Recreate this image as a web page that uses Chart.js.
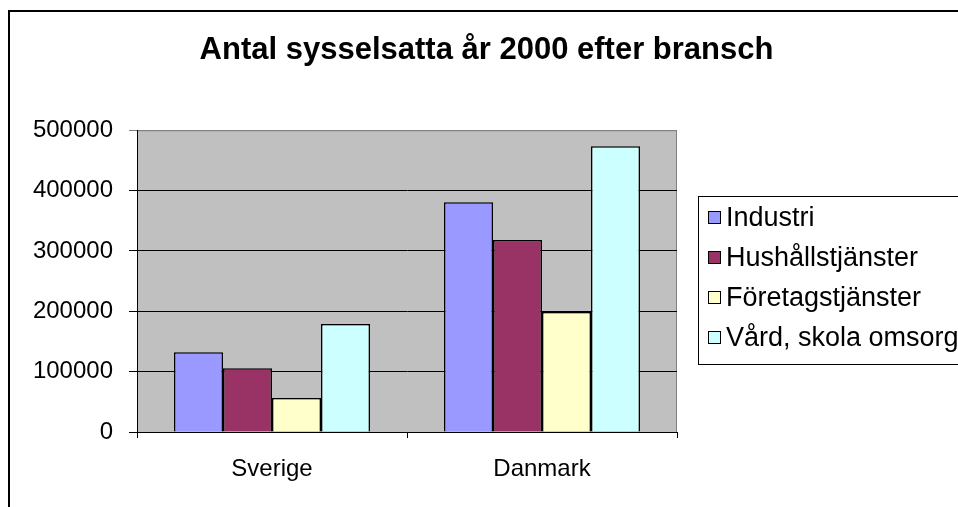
<!DOCTYPE html>
<html>
<head>
<meta charset="utf-8">
<script src="https://cdn.jsdelivr.net/npm/chart.js@4.4.1/dist/chart.umd.min.js"></script>
<style>
html,body{margin:0;padding:0;background:#fff;}
#wrap{width:958px;height:507px;position:relative;}
</style>
</head>
<body>
<div id="wrap"><canvas id="c" width="958" height="507"></canvas></div>
<script>
const titleText = 'Antal sysselsatta år 2000 efter bransch';
const categories = ['Sverige', 'Danmark'];
const seriesNames = ['Industri', 'Hushållstjänster', 'Företagstjänster', 'Vård, skola omsorg'];
const industri = [132000, 380500];
const hushall = [105500, 318000];
const foretag = [56500, 199000];
const vard = [179000, 473500];
const yTicks = [0, 100000, 200000, 300000, 400000, 500000];
const colors = ['#9999FF', '#993366', '#FFFFCC', '#CCFFFF'];

const FONT = "'Liberation Sans', Arial, sans-serif";

const seriesValues = [industri, hushall, foretag, vard];

const frame = {
  id: 'frame',
  beforeDraw(chart) {
    const ctx = chart.ctx, a = chart.chartArea;
    ctx.save();
    ctx.fillStyle = '#ffffff';
    ctx.fillRect(0, 0, chart.width, chart.height);
    ctx.strokeStyle = '#000';
    ctx.lineWidth = 2;
    ctx.strokeRect(9, 11, chart.width + 20, chart.height + 20);
    ctx.fillStyle = '#C0C0C0';
    ctx.fillRect(a.left, a.top, a.right - a.left, a.bottom - a.top);
    ctx.strokeStyle = '#808080';
    ctx.lineWidth = 1;
    ctx.strokeRect(a.left + 0.5, a.top + 0.5, a.right - a.left - 1, a.bottom - a.top);
    ctx.restore();
  },
  afterDraw(chart) {
    const ctx = chart.ctx;
    ctx.save();
    ctx.strokeStyle = '#000';
    ctx.lineWidth = 1;
    ctx.strokeRect(698.5, 196.5, 300, 168);
    ctx.font = '27px ' + FONT;
    ctx.textBaseline = 'middle';
    ctx.textAlign = 'left';
    chart.data.datasets.forEach((ds, i) => {
      const cy = 218 + i * 40;
      ctx.fillStyle = ds.backgroundColor;
      ctx.fillRect(708.5, cy - 6.5, 12, 12);
      ctx.strokeStyle = '#000';
      ctx.strokeRect(708.5, cy - 6.5, 12, 12);
      ctx.fillStyle = '#000';
      ctx.fillText(ds.label, 726, cy + 1);
    });
    ctx.restore();
  }
};

new Chart(document.getElementById('c'), {
  type: 'bar',
  data: {
    labels: categories,
    datasets: seriesNames.map((n, i) => ({
      label: n,
      data: seriesValues[i],
      backgroundColor: colors[i],
      borderColor: '#000',
      borderWidth: 1.5,
      barPercentage: 1,
      categoryPercentage: 0.726
    }))
  },
  options: {
    responsive: false,
    animation: false,
    devicePixelRatio: 1,
    layout: { padding: { left: 15, right: 0, top: 0, bottom: 0 } },
    plugins: {
      legend: { display: false },
      tooltip: { enabled: false },
      title: {
        display: true,
        text: titleText,
        color: '#000',
        font: { family: FONT, size: 31, weight: 'bold' },
        padding: { top: 32, bottom: 61 }
      }
    },
    scales: {
      x: {
        grid: { display: true, drawOnChartArea: false, drawTicks: true, tickLength: 6, color: '#000', offset: true },
        border: { display: true, color: '#000', width: 1 },
        ticks: { color: '#000', font: { family: FONT, size: 24 }, padding: 17, maxRotation: 0 },
        afterFit(s) { s.height = 75; }
      },
      y: {
        min: 0, max: 500000,
        afterBuildTicks(s) { s.ticks = yTicks.map(v => ({ value: v })); },
        grid: {
          color: ctx => (ctx.tick && ctx.tick.value === 500000) ? '#808080' : '#000',
          tickLength: 8, drawTicks: true, lineWidth: 1
        },
        border: { display: true, color: '#000', width: 1 },
        ticks: { color: '#000', font: { family: FONT, size: 24 }, padding: 16, callback: v => String(v) },
        afterFit(s) { s.width = 122; }
      },
      legendSpace: {
        type: 'linear',
        position: 'right',
        min: 0, max: 1,
        grid: { display: false, drawTicks: false },
        border: { display: false },
        ticks: { display: false },
        afterFit(s) { s.width = 281; }
      }
    }
  },
  plugins: [frame]
});
</script>
</body>
</html>
